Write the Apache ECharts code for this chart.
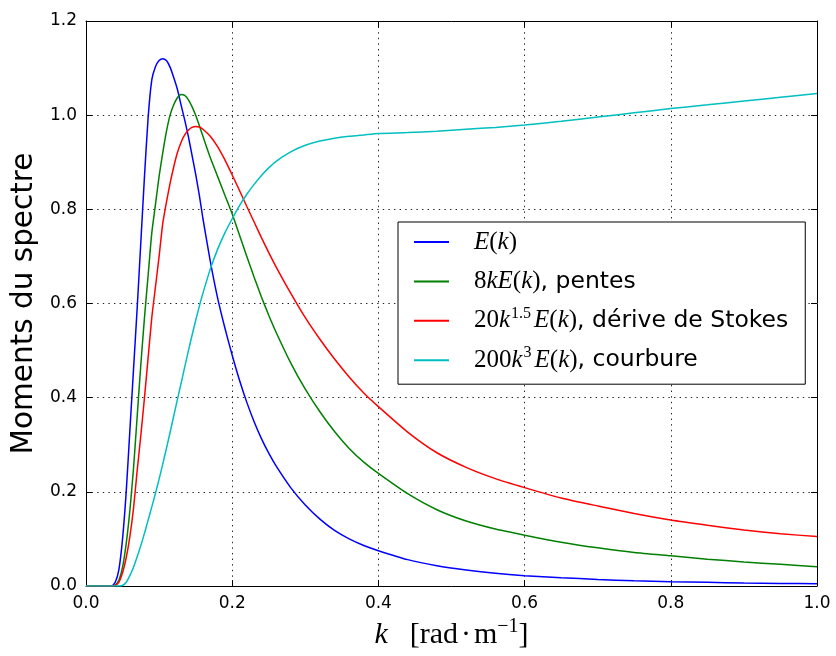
<!DOCTYPE html>
<html>
<head>
<meta charset="utf-8">
<script src="https://cdn.jsdelivr.net/npm/echarts@6/dist/echarts.min.js"></script>
<style>
html,body{margin:0;padding:0;background:#fff;}
#chart{width:836px;height:656px;}
</style>
</head>
<body>
<div id="chart"></div>
<script>
// wavenumber k [rad/m]
const kValues = [0, 0.03, 0.035, 0.04, 0.045, 0.05, 0.055, 0.06, 0.065, 0.07, 0.075, 0.08, 0.085, 0.09, 0.095, 0.1, 0.105, 0.11, 0.115, 0.12, 0.125, 0.13, 0.135, 0.14, 0.145, 0.15, 0.155, 0.16, 0.17, 0.18, 0.19, 0.2, 0.21, 0.22, 0.23, 0.24, 0.25, 0.26, 0.28, 0.3, 0.32, 0.34, 0.36, 0.38, 0.4, 0.44, 0.48, 0.52, 0.56, 0.6, 0.65, 0.7, 0.75, 0.8, 0.85, 0.9, 0.95, 1.0];
// E(k)
const eValues = [0, 0, 0, 0.008, 0.035, 0.10, 0.20, 0.33, 0.46, 0.59, 0.73, 0.87, 0.995, 1.075, 1.103, 1.116, 1.12, 1.116, 1.102, 1.08, 1.055, 1.022, 0.99, 0.955, 0.915, 0.875, 0.83, 0.78, 0.69, 0.612, 0.548, 0.49, 0.437, 0.39, 0.349, 0.313, 0.282, 0.255, 0.209, 0.172, 0.142, 0.118, 0.1, 0.086, 0.075, 0.056, 0.043, 0.034, 0.027, 0.022, 0.0175, 0.014, 0.011, 0.009, 0.0077, 0.0064, 0.0055, 0.0047];
// 8kE(k), pentes
const slopeValues = [0, 0, 0, 0.002, 0.012, 0.04, 0.09, 0.16, 0.25, 0.36, 0.47, 0.57, 0.66, 0.75, 0.81, 0.87, 0.92, 0.965, 1.0, 1.022, 1.037, 1.044, 1.042, 1.033, 1.018, 1.0, 0.978, 0.955, 0.91, 0.87, 0.83, 0.79, 0.745, 0.70, 0.656, 0.614, 0.575, 0.539, 0.474, 0.418, 0.37, 0.328, 0.292, 0.263, 0.239, 0.196, 0.162, 0.138, 0.121, 0.108, 0.093, 0.081, 0.071, 0.064, 0.057, 0.051, 0.046, 0.041];
// 20k^1.5 E(k), dérive de Stokes
const stokesValues = [0, 0, 0, 0.001, 0.008, 0.028, 0.06, 0.105, 0.165, 0.245, 0.32, 0.40, 0.485, 0.57, 0.635, 0.70, 0.77, 0.815, 0.855, 0.89, 0.92, 0.942, 0.958, 0.968, 0.974, 0.976, 0.975, 0.97, 0.955, 0.933, 0.905, 0.873, 0.84, 0.806, 0.773, 0.74, 0.708, 0.678, 0.622, 0.57, 0.524, 0.482, 0.444, 0.41, 0.381, 0.327, 0.283, 0.252, 0.228, 0.209, 0.187, 0.17, 0.154, 0.14, 0.129, 0.119, 0.111, 0.105];
// 200k^3 E(k), courbure
const curvValues = [0, 0, 0, 0, 0, 0.001, 0.008, 0.022, 0.04, 0.062, 0.086, 0.112, 0.14, 0.168, 0.197, 0.227, 0.259, 0.292, 0.326, 0.361, 0.396, 0.43, 0.465, 0.499, 0.532, 0.564, 0.594, 0.622, 0.673, 0.715, 0.75, 0.78, 0.808, 0.832, 0.853, 0.872, 0.888, 0.902, 0.922, 0.936, 0.945, 0.951, 0.955, 0.958, 0.961, 0.963, 0.966, 0.970, 0.974, 0.979, 0.987, 0.996, 1.005, 1.014, 1.022, 1.030, 1.038, 1.046];

const seriesNames = ['E', 'pentes', 'stokes', 'courbure'];
const seriesColors = ['#0000ff', '#008000', '#ff0000', '#00bfbf'];
const seriesValues = [eValues, slopeValues, stokesValues, curvValues];

const xTicks = { min: 0, max: 1.0, interval: 0.2 };
const yTicks = { min: 0, max: 1.2, interval: 0.2 };

const legendLabels = {
  E: '{i|E}{r|(}{i|k}{r|)}',
  pentes: '{r|8}{i|kE}{r|(}{i|k}{r|)}{t|, pentes}',
  stokes: '{r|20}{i|k}{sup|1.5}{i|E}{r|(}{i|k}{r|)}{t|, dérive de Stokes}',
  courbure: '{r|200}{i|k}{sup|3}{i|E}{r|(}{i|k}{r|)}{t|, courbure}'
};

const chart = echarts.init(document.getElementById('chart'), null, { renderer: 'canvas' });

const gridLine = { show: true, lineStyle: { color: '#222', width: 1, type: [1.4, 4.2] } };
const tickFont = { fontFamily: 'DejaVu Sans', fontSize: 17, color: '#000' };

const option = {
  backgroundColor: '#fff',
  animation: false,
  grid: { left: 86, right: 19, top: 21, bottom: 70, containLabel: false },
  xAxis: [
    {
      type: 'value', min: xTicks.min, max: xTicks.max, interval: xTicks.interval,
      position: 'bottom',
      axisLine: { show: true, onZero: false, lineStyle: { color: '#000', width: 1 } },
      axisTick: { show: true, inside: true, length: 6, lineStyle: { color: '#000' } },
      axisLabel: Object.assign({ margin: 9, formatter: v => v.toFixed(1) }, tickFont),
      splitLine: gridLine,
      name: '{k|k}{sp| }{n|[rad}{d|·}{n|m}{s|−1}{n|]}',
      nameLocation: 'middle',
      nameGap: 30,
      nameTextStyle: {
        rich: {
          k: { fontFamily: 'Liberation Serif', fontStyle: 'italic', fontSize: 30, lineHeight: 36, color: '#000' },
          sp: { fontFamily: 'Liberation Serif', fontSize: 30, lineHeight: 36, width: 22 },
          n: { fontFamily: 'Liberation Serif', fontSize: 30, lineHeight: 36, color: '#000' },
          d: { fontFamily: 'Liberation Serif', fontSize: 30, lineHeight: 36, color: '#000', padding: [0, 3, 0, 3] },
          s: { fontFamily: 'Liberation Serif', fontSize: 20, lineHeight: 22, color: '#000', verticalAlign: 'top' }
        }
      }
    },
    {
      type: 'value', min: xTicks.min, max: xTicks.max, interval: xTicks.interval,
      position: 'top',
      axisLine: { show: true, onZero: false, lineStyle: { color: '#000', width: 1 } },
      axisTick: { show: true, inside: true, length: 6, lineStyle: { color: '#000' } },
      axisLabel: { show: false },
      splitLine: { show: false }
    }
  ],
  yAxis: [
    {
      type: 'value', min: yTicks.min, max: yTicks.max, interval: yTicks.interval,
      position: 'left',
      axisLine: { show: true, onZero: false, lineStyle: { color: '#000', width: 1 } },
      axisTick: { show: true, inside: true, length: 6, lineStyle: { color: '#000' } },
      axisLabel: Object.assign({ margin: 9, formatter: v => v.toFixed(1) }, tickFont),
      splitLine: gridLine,
      name: 'Moments du spectre',
      nameLocation: 'middle',
      nameGap: 44,
      nameTextStyle: { fontFamily: 'DejaVu Sans', fontSize: 29.5, color: '#000' }
    },
    {
      type: 'value', min: yTicks.min, max: yTicks.max, interval: yTicks.interval,
      position: 'right',
      axisLine: { show: true, onZero: false, lineStyle: { color: '#000', width: 1 } },
      axisTick: { show: true, inside: true, length: 6, lineStyle: { color: '#000' } },
      axisLabel: { show: false },
      splitLine: { show: false }
    }
  ],
  legend: {
    orient: 'vertical',
    left: 398,
    top: 222,
    padding: [5, 17, 9, 15],
    itemGap: 9.4,
    itemWidth: 35,
    itemHeight: 14,
    backgroundColor: '#fff',
    borderColor: '#000',
    borderWidth: 1,
    borderRadius: 0,
    data: seriesNames,
    formatter: name => legendLabels[name],
    itemStyle: { color: 'rgba(0,0,0,0)', borderWidth: 0, opacity: 0 },
    textStyle: {
      height: 30,
      lineHeight: 30,
      padding: [0, 0, 0, 20],
      rich: {
        i: { fontFamily: 'Liberation Serif', fontStyle: 'italic', fontSize: 25, lineHeight: 30, color: '#000' },
        r: { fontFamily: 'Liberation Serif', fontSize: 25, lineHeight: 30, color: '#000' },
        sup: { fontFamily: 'Liberation Serif', fontSize: 16, lineHeight: 18, color: '#000', verticalAlign: 'top', padding: [0, 3, 0, 1] },
        t: { fontFamily: 'DejaVu Sans', fontSize: 23.5, lineHeight: 30, color: '#000' }
      }
    }
  },
  series: seriesNames.map((name, i) => ({
    name: name,
    type: 'line',
    xAxisIndex: 0,
    yAxisIndex: 0,
    symbol: 'none',
    smooth: 0.2,
    clip: true,
    lineStyle: { color: seriesColors[i], width: 1.5 },
    itemStyle: { color: seriesColors[i] },
    data: kValues.map((k, j) => [k, seriesValues[i][j]])
  }))
};

chart.setOption(option);
</script>
</body>
</html>
